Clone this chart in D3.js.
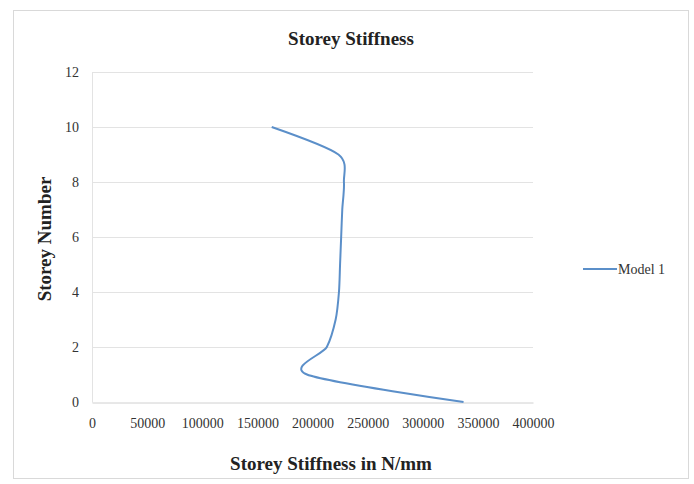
<!DOCTYPE html>
<html>
<head>
<meta charset="utf-8">
<script src="https://cdn.jsdelivr.net/npm/d3@7"></script>
<style>
  html, body { margin: 0; padding: 0; background: #fff; }
  svg { display: block; }
  text { font-family: "Liberation Serif", "Times New Roman", serif; }
</style>
</head>
<body>
<svg id="chart" width="694" height="484"></svg>
<script>
// Storey stiffness per storey (N/mm), storey 0 at the base
const storeys = [0, 1, 2, 3, 4, 5, 6, 7, 8, 9, 10];
const stiffness = [337000, 195000, 213000, 221000, 224000, 225000, 226000, 227000, 228500, 223500, 163000];
const seriesName = "Model 1";
const xTicks = [0, 50000, 100000, 150000, 200000, 250000, 300000, 350000, 400000];
const yTicks = [0, 2, 4, 6, 8, 10, 12];

const svg = d3.select("#chart");

// Chart frame
svg.append("rect")
  .attr("x", 13.5).attr("y", 10.5)
  .attr("width", 675).attr("height", 468)
  .attr("fill", "#fff").attr("stroke", "#d9d9d9").attr("stroke-width", 1);

const x = d3.scaleLinear().domain([0, 400000]).range([92, 533]);
const y = d3.scaleLinear().domain([0, 12]).range([402, 72]);

// Horizontal gridlines
svg.append("g")
  .selectAll("line")
  .data(yTicks.filter(d => d > 0))
  .join("line")
  .attr("x1", x(0)).attr("x2", x(400000))
  .attr("y1", d => Math.round(y(d)) + 0.5)
  .attr("y2", d => Math.round(y(d)) + 0.5)
  .attr("stroke", "#e3e3e3").attr("stroke-width", 1);

// Y axis
const yAxis = svg.append("g")
  .attr("transform", `translate(${x(0)},0)`)
  .call(d3.axisLeft(y).tickValues(yTicks).tickSize(0).tickPadding(13));
yAxis.select(".domain").attr("stroke", "#e3e3e3");
yAxis.selectAll("text")
  .attr("font-size", 14).attr("fill", "#333")
  .style("font-family", "'Liberation Serif', serif");

// X axis
const xAxis = svg.append("g")
  .attr("transform", `translate(0,${Math.round(y(0)) + 0.5})`)
  .call(d3.axisBottom(x).tickValues(xTicks).tickSize(0).tickPadding(16).tickFormat(d3.format("d")));
xAxis.select(".domain").attr("stroke", "#d0d0d0");
xAxis.selectAll("text")
  .attr("font-size", 14).attr("fill", "#333")
  .style("font-family", "'Liberation Serif', serif");

// Stiffness profile (smoothed)
const line = d3.line()
  .x((d, i) => x(stiffness[i]))
  .y(d => y(d))
  .curve(d3.curveCardinal.tension(0.15));

svg.append("path")
  .datum(storeys)
  .attr("d", line)
  .attr("fill", "none")
  .attr("stroke", "#5b8fc9")
  .attr("stroke-width", 2)
  .attr("stroke-linejoin", "round");

// Titles
svg.append("text")
  .attr("x", 351).attr("y", 45)
  .attr("text-anchor", "middle")
  .attr("font-size", 19).attr("font-weight", "bold").attr("fill", "#222")
  .text("Storey Stiffness");

svg.append("text")
  .attr("x", 331).attr("y", 470)
  .attr("text-anchor", "middle")
  .attr("font-size", 19).attr("font-weight", "bold").attr("fill", "#222")
  .text("Storey Stiffness in N/mm");

svg.append("text")
  .attr("transform", "translate(51,239) rotate(-90)")
  .attr("text-anchor", "middle")
  .attr("font-size", 19).attr("font-weight", "bold").attr("fill", "#222")
  .text("Storey Number");

// Legend
const legend = svg.append("g").attr("transform", "translate(583,269)");
legend.append("line")
  .attr("x1", 0).attr("x2", 34).attr("y1", 0).attr("y2", 0)
  .attr("stroke", "#5b8fc9").attr("stroke-width", 2);
legend.append("text")
  .attr("x", 35).attr("y", 5)
  .attr("font-size", 14).attr("fill", "#333")
  .text(seriesName);
</script>
</body>
</html>
